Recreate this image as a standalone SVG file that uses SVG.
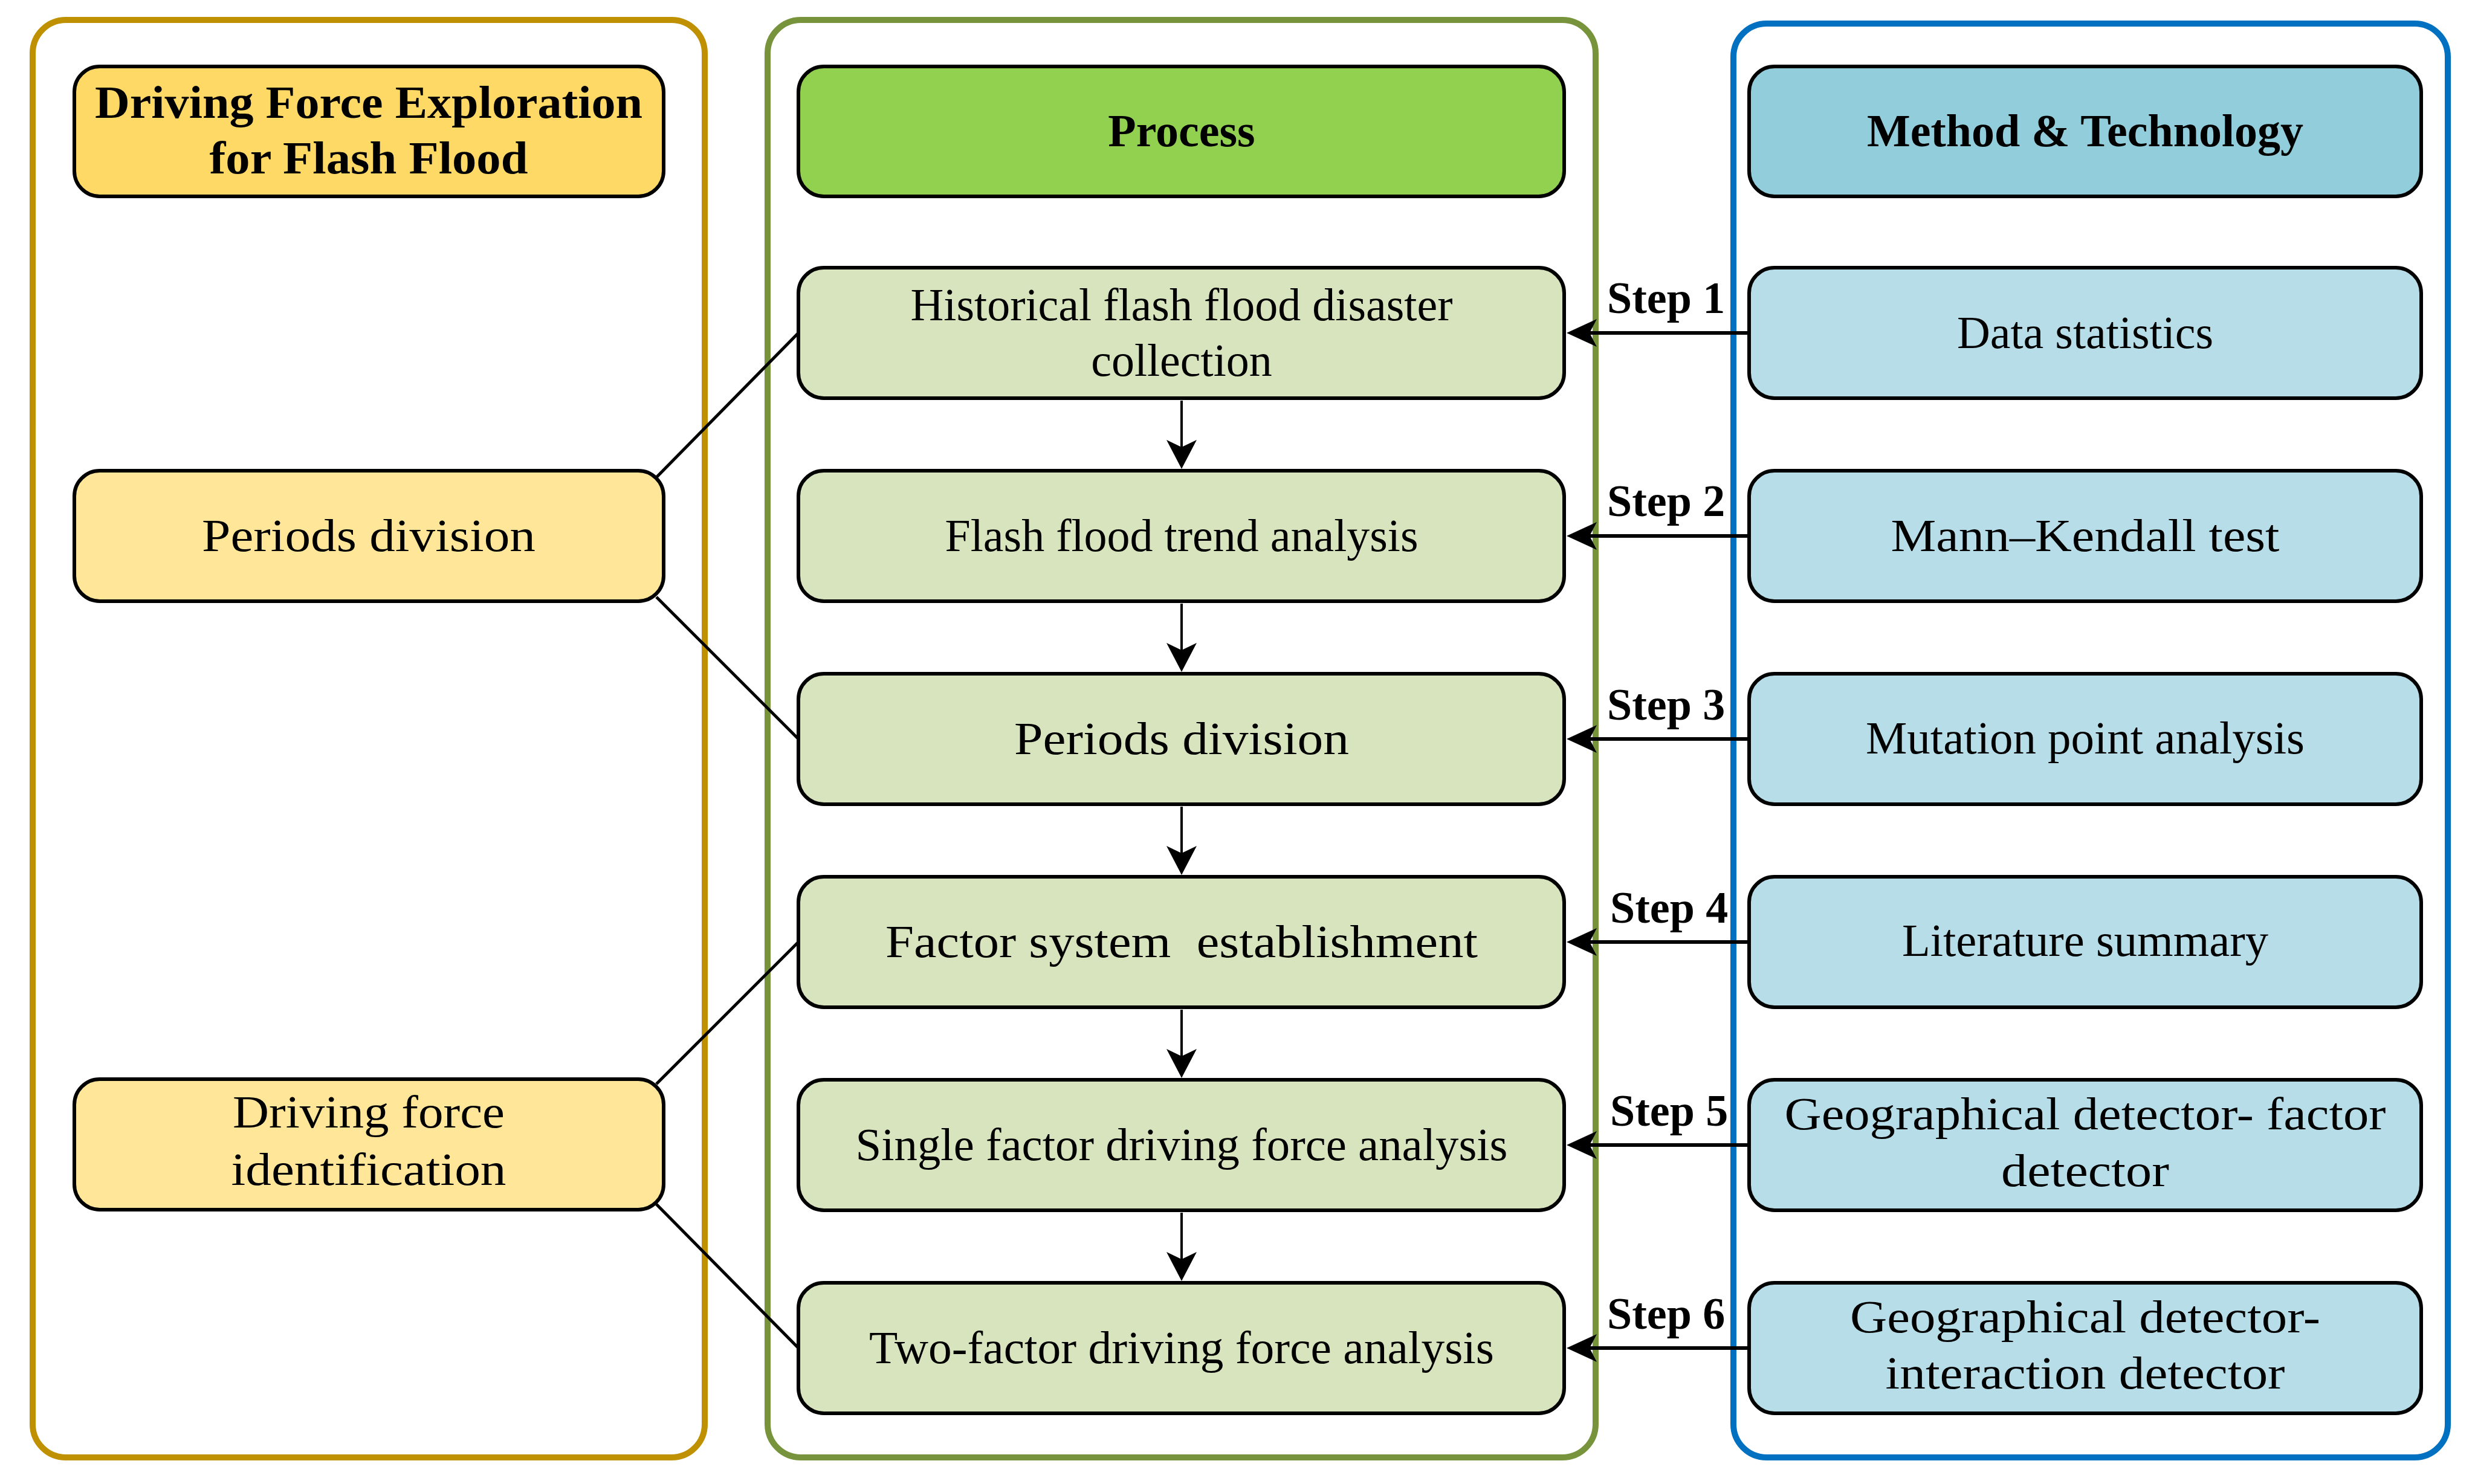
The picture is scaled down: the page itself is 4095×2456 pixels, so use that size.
<svg xmlns="http://www.w3.org/2000/svg" width="4095" height="2456" viewBox="0 0 4095 2456">
<style>
.cont{fill:none;stroke-width:10}
.box{stroke:#000;stroke-width:6}
.t{font-family:"Liberation Serif","Times New Roman",serif;font-size:76px;text-anchor:middle;fill:#000}
.b{font-weight:bold}
.st{font-family:"Liberation Serif","Times New Roman",serif;font-size:74px;font-weight:bold;fill:#000}
.ln{stroke:#000;fill:none}
</style>
<defs>
<marker id="ah" viewBox="0 0 50 46" refX="12" refY="23" markerWidth="50" markerHeight="46" markerUnits="userSpaceOnUse" orient="auto">
<path d="M0,0 L50,23 L0,46 L12,23 Z" fill="#000"/>
</marker>
<marker id="av" viewBox="0 0 48 50" refX="12" refY="25" markerWidth="48" markerHeight="50" markerUnits="userSpaceOnUse" orient="auto">
<path d="M0,0 L48,25 L0,50 L12,25 Z" fill="#000"/>
</marker>
</defs>
<rect width="4095" height="2456" fill="#fff"/>

<g id="containers">
<rect id="left-container" class="cont" x="54" y="33" width="1112" height="2379" rx="55" stroke="#BF9000"/>
<rect id="mid-container" class="cont" x="1270" y="33" width="1370" height="2379" rx="55" stroke="#77933C"/>
<rect id="right-container" class="cont" x="2868" y="39" width="1182" height="2373" rx="55" stroke="#0070C0"/>
</g>

<g id="connectors">
<line class="ln" stroke-width="5" x1="1086" y1="790" x2="1321" y2="551"/>
<line class="ln" stroke-width="5" x1="1086" y1="988" x2="1321" y2="1223"/>
<line class="ln" stroke-width="5" x1="1086" y1="1794" x2="1321" y2="1559"/>
<line class="ln" stroke-width="5" x1="1086" y1="1993" x2="1321" y2="2231"/>
<line class="ln" stroke-width="4" x1="1955" y1="663" x2="1955" y2="740" marker-end="url(#av)"/>
<line class="ln" stroke-width="4" x1="1955" y1="999" x2="1955" y2="1076" marker-end="url(#av)"/>
<line class="ln" stroke-width="4" x1="1955" y1="1335" x2="1955" y2="1412" marker-end="url(#av)"/>
<line class="ln" stroke-width="4" x1="1955" y1="1671" x2="1955" y2="1748" marker-end="url(#av)"/>
<line class="ln" stroke-width="4" x1="1955" y1="2007" x2="1955" y2="2084" marker-end="url(#av)"/>
<line class="ln" stroke-width="6" x1="2894" y1="551" x2="2630" y2="551" marker-end="url(#ah)"/>
<line class="ln" stroke-width="6" x1="2894" y1="887" x2="2630" y2="887" marker-end="url(#ah)"/>
<line class="ln" stroke-width="6" x1="2894" y1="1223" x2="2630" y2="1223" marker-end="url(#ah)"/>
<line class="ln" stroke-width="6" x1="2894" y1="1559" x2="2630" y2="1559" marker-end="url(#ah)"/>
<line class="ln" stroke-width="6" x1="2894" y1="1895" x2="2630" y2="1895" marker-end="url(#ah)"/>
<line class="ln" stroke-width="6" x1="2894" y1="2231" x2="2630" y2="2231" marker-end="url(#ah)"/>
<text class="st" x="2659" y="518">Step 1</text>
<text class="st" x="2659" y="854">Step 2</text>
<text class="st" x="2659" y="1191">Step 3</text>
<text class="st" x="2664" y="1527">Step 4</text>
<text class="st" x="2664" y="1863">Step 5</text>
<text class="st" x="2659" y="2199">Step 6</text>
</g>

<g id="left-header">
<rect class="box" x="123" y="110" width="975" height="215" rx="42" fill="#FFD966"/>
<text class="t b" x="610" y="195" font-size="78" textLength="906" lengthAdjust="spacingAndGlyphs">Driving Force Exploration</text>
<text class="t b" x="610" y="287" font-size="78" textLength="527" lengthAdjust="spacingAndGlyphs">for Flash Flood</text>
</g>
<g id="left-periods">
<rect class="box" x="123" y="779" width="975" height="216" rx="42" fill="#FFE699"/>
<text class="t" x="610" y="912" textLength="552" lengthAdjust="spacingAndGlyphs">Periods division</text>
</g>
<g id="left-driving">
<rect class="box" x="123" y="1786" width="975" height="216" rx="42" fill="#FFE699"/>
<text class="t" x="610" y="1866" textLength="450" lengthAdjust="spacingAndGlyphs">Driving force</text>
<text class="t" x="610" y="1961" textLength="455" lengthAdjust="spacingAndGlyphs">identification</text>
</g>

<g id="process-header">
<rect class="box" x="1321" y="110" width="1267" height="215" rx="42" fill="#92D050"/>
<text class="t b" x="1955" y="242">Process</text>
</g>
<g id="p1">
<rect class="box" x="1321" y="443" width="1267" height="216" rx="42" fill="#D7E4BD"/>
<text class="t" x="1955" y="530">Historical flash flood disaster</text>
<text class="t" x="1955" y="622">collection</text>
</g>
<g id="p2">
<rect class="box" x="1321" y="779" width="1267" height="216" rx="42" fill="#D7E4BD"/>
<text class="t" x="1955" y="912">Flash flood trend analysis</text>
</g>
<g id="p3">
<rect class="box" x="1321" y="1115" width="1267" height="216" rx="42" fill="#D7E4BD"/>
<text class="t" x="1955" y="1248" textLength="554" lengthAdjust="spacingAndGlyphs">Periods division</text>
</g>
<g id="p4">
<rect class="box" x="1321" y="1451" width="1267" height="216" rx="42" fill="#D7E4BD"/>
<text class="t" x="1955" y="1584" textLength="980" lengthAdjust="spacingAndGlyphs" xml:space="preserve">Factor system  establishment</text>
</g>
<g id="p5">
<rect class="box" x="1321" y="1787" width="1267" height="216" rx="42" fill="#D7E4BD"/>
<text class="t" x="1955" y="1920" textLength="1079" lengthAdjust="spacingAndGlyphs">Single factor driving force analysis</text>
</g>
<g id="p6">
<rect class="box" x="1321" y="2123" width="1267" height="216" rx="42" fill="#D7E4BD"/>
<text class="t" x="1955" y="2256" textLength="1034" lengthAdjust="spacingAndGlyphs">Two-factor driving force analysis</text>
</g>

<g id="method-header">
<rect class="box" x="2894" y="110" width="1112" height="215" rx="42" fill="#92CDDC"/>
<text class="t b" x="3450" y="242">Method &amp; Technology</text>
</g>
<g id="m1">
<rect class="box" x="2894" y="443" width="1112" height="216" rx="42" fill="#B7DEE8"/>
<text class="t" x="3450" y="576">Data statistics</text>
</g>
<g id="m2">
<rect class="box" x="2894" y="779" width="1112" height="216" rx="42" fill="#B7DEE8"/>
<text class="t" x="3450" y="912" textLength="643" lengthAdjust="spacingAndGlyphs">Mann–Kendall test</text>
</g>
<g id="m3">
<rect class="box" x="2894" y="1115" width="1112" height="216" rx="42" fill="#B7DEE8"/>
<text class="t" x="3450" y="1247" textLength="726" lengthAdjust="spacingAndGlyphs">Mutation point analysis</text>
</g>
<g id="m4">
<rect class="box" x="2894" y="1451" width="1112" height="216" rx="42" fill="#B7DEE8"/>
<text class="t" x="3450" y="1582" textLength="606" lengthAdjust="spacingAndGlyphs">Literature summary</text>
</g>
<g id="m5">
<rect class="box" x="2894" y="1787" width="1112" height="216" rx="42" fill="#B7DEE8"/>
<text class="t" x="3450" y="1869" textLength="995" lengthAdjust="spacingAndGlyphs">Geographical detector- factor</text>
<text class="t" x="3450" y="1963" textLength="278" lengthAdjust="spacingAndGlyphs">detector</text>
</g>
<g id="m6">
<rect class="box" x="2894" y="2123" width="1112" height="216" rx="42" fill="#B7DEE8"/>
<text class="t" x="3450" y="2205" textLength="778" lengthAdjust="spacingAndGlyphs">Geographical detector-</text>
<text class="t" x="3450" y="2298" textLength="661" lengthAdjust="spacingAndGlyphs">interaction detector</text>
</g>
</svg>
